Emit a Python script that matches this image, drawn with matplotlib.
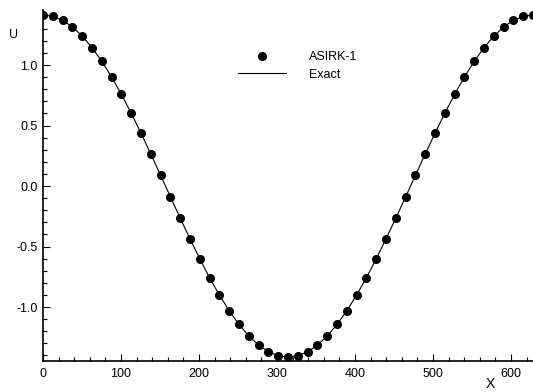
#!/usr/bin/env python3
import matplotlib
matplotlib.use('Agg')
import matplotlib.pyplot as plt
from matplotlib.ticker import MultipleLocator

# sample positions along X and the values
x_pts = [0.0, 12.6, 25.1, 37.7, 50.3, 62.8, 75.4, 88.0, 100.5, 113.1,
         125.7, 138.2, 150.8, 163.4, 175.9, 188.5, 201.1, 213.6, 226.2, 238.8,
         251.3, 263.9, 276.5, 289.0, 301.6, 314.2, 326.7, 339.3, 351.9, 364.4,
         377.0, 389.6, 402.1, 414.7, 427.3, 439.8, 452.4, 465.0, 477.5, 490.1,
         502.7, 515.2, 527.8, 540.4, 552.9, 565.5, 578.1, 590.6, 603.2, 615.8,
         628.3]
u_asirk = [1.414, 1.403, 1.370, 1.315, 1.239, 1.144, 1.031, 0.901, 0.758, 0.602,
           0.437, 0.265, 0.089, -0.089, -0.265, -0.437, -0.602, -0.758, -0.901, -1.031,
           -1.144, -1.239, -1.315, -1.370, -1.403, -1.414, -1.403, -1.370, -1.315, -1.239,
           -1.144, -1.031, -0.901, -0.758, -0.602, -0.437, -0.265, -0.089, 0.089, 0.265,
           0.437, 0.602, 0.758, 0.901, 1.031, 1.144, 1.239, 1.315, 1.370, 1.403,
           1.414]
u_exact = list(u_asirk)

x_ticks = [0, 100, 200, 300, 400, 500, 600]
y_ticks = [-1.0, -0.5, 0.0, 0.5, 1.0]

plt.rcParams['font.family'] = ['Liberation Sans', 'DejaVu Sans']

fig = plt.figure(figsize=(5.33, 3.92), dpi=100)
ax = fig.add_axes([43 / 533, 31 / 392, 1 - 43 / 533, 351 / 392])

ax.plot(x_pts, u_exact, color='black', linewidth=0.8, label='Exact')
ax.plot(x_pts, u_asirk, linestyle='none', marker='o', markersize=5.5,
        color='black', label='ASIRK-1')

ax.set_xlim(0, 628.3)
ax.set_ylim(-1.446, 1.455)
ax.set_xticks(x_ticks)
ax.set_xticklabels([str(t) for t in x_ticks])
ax.set_yticks(y_ticks)
ax.set_yticklabels(['%.1f' % t for t in y_ticks])
ax.xaxis.set_minor_locator(MultipleLocator(20))
ax.yaxis.set_minor_locator(MultipleLocator(0.1))
ax.tick_params(which='both', direction='in', labelsize=9, width=0.8)
ax.tick_params(which='major', length=5)
ax.tick_params(which='minor', length=3)
ax.tick_params(axis='x', pad=5)
ax.tick_params(axis='y', pad=4)

for side in ('top', 'right'):
    ax.spines[side].set_visible(False)
for side in ('left', 'bottom'):
    ax.spines[side].set_linewidth(1.2)

handles, labels = ax.get_legend_handles_labels()
ax.legend(handles[::-1], labels[::-1], loc='upper left',
          bbox_to_anchor=(0.375, 0.915), frameon=False, fontsize=9,
          handlelength=3.8, handletextpad=1.9, labelspacing=0.45)

fig.text(14 / 533, 1 - 35 / 392, 'U', fontsize=9, ha='center', va='center')
fig.text(490 / 533, 1 - 384 / 392, 'X', fontsize=10, ha='center', va='center')

fig.savefig('out.png', dpi=100)
